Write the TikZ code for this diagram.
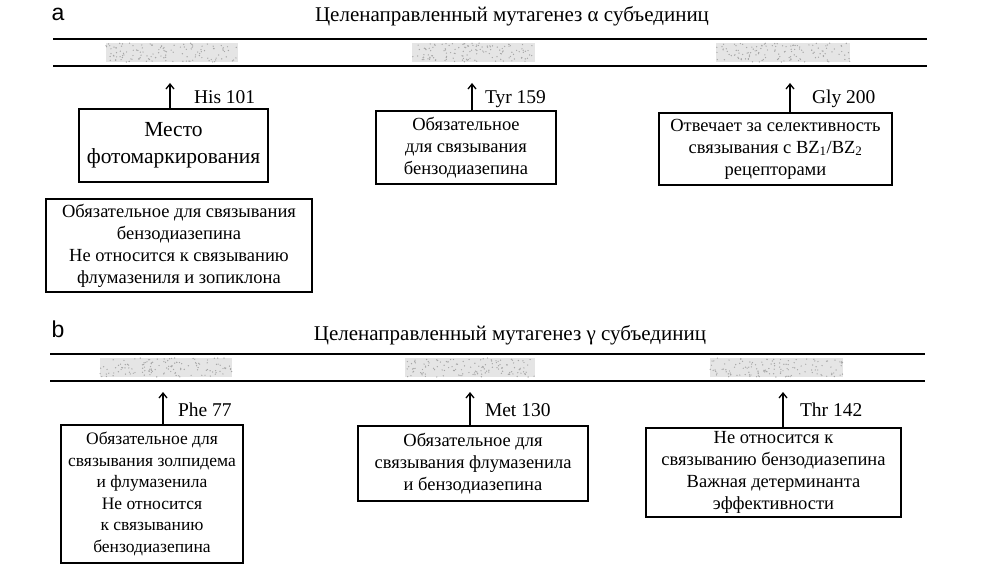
\documentclass[tikz,border=0pt]{standalone}
\usepackage{fontspec}
\setmainfont{Liberation Serif}
\setsansfont{Liberation Sans}
\usetikzlibrary{arrows.meta}
\begin{document}
\begin{tikzpicture}[x=1pt,y=-1pt,
  every node/.style={inner sep=0pt,outer sep=0pt},
  infobox/.style={draw,line width=1.3pt,align=center,font=\fontsize{18.5}{22}\selectfont},
  bigbox/.style={draw,line width=1.3pt,align=center,font=\fontsize{21.5}{27}\selectfont},
  res/.style={anchor=base west,font=\fontsize{19.5}{22}\selectfont},
  ttl/.style={font=\fontsize{21}{24}\selectfont},
  letter/.style={font=\sffamily\fontsize{23}{26}\selectfont},
  band/.style={line width=1.3pt},
  patch/.style={fill=black!10,draw=none},
  speck/.style={fill=black!35,draw=none},
  up/.style={-{Straight Barb[length=5pt,width=8pt]},line width=1.3pt}]
\useasboundingbox (0,0) rectangle (1004,585);
\pgfmathsetseed{7}
% ---- panel a ----
\node[letter] (la) at (58,14) {a};
\node[ttl] (ta) at (512,16) {Целенаправленный мутагенез α субъединиц};
\foreach \xa/\xb/\ya in {106/238/43, 412/535/43, 716/850/43, 100/232/358, 405/535/358, 710/843/358}{
  \fill[patch] (\xa,\ya) rectangle (\xb,\ya+19);
  \foreach \k in {1,...,130}{
    \pgfmathsetmacro{\px}{\xa+rnd*(\xb-\xa)}
    \pgfmathsetmacro{\py}{\ya+rnd*19}
    \fill[speck] (\px,\py) circle (0.7);
  }
}
\coordinate (a1l) at (53,39); \coordinate (a1r) at (927,39);
\coordinate (a2l) at (53,66); \coordinate (a2r) at (927,66);
\draw[band] (a1l) -- (a1r);
\draw[band] (a2l) -- (a2r);

\node[bigbox,minimum width=189pt,minimum height=73pt] (b1) at (173.5,145.5) {Место\\фотомаркирования};
\node[infobox,minimum width=266pt,minimum height=93pt] (b2) at (179,245.5) {Обязательное для связывания\\бензодиазепина\\Не относится к связыванию\\флумазениля и зопиклона};
\node[infobox,minimum width=180pt,minimum height=73pt] (b3) at (466,147.5) {Обязательное\\для связывания\\бензодиазепина};
\node[infobox,minimum width=233pt,minimum height=72pt] (b4) at (775.5,149) {Отвечает за селективность\\связывания с BZ\textsubscript{1}/BZ\textsubscript{2}\\рецепторами};

\coordinate (t1) at (170,83);
\coordinate (t3) at (472,83);
\coordinate (t4) at (790,83);
\draw[up] (b1.north -| t1) -- (t1);
\draw[up] (b3.north -| t3) -- (t3);
\draw[up] (b4.north -| t4) -- (t4);
\node[res] (r1) at (194,104) {His 101};
\node[res] (r3) at (485,104) {Tyr 159};
\node[res] (r4) at (812,104) {Gly 200};

% ---- panel b ----
\node[letter] (lb) at (58,329) {b};
\node[ttl] (tb) at (510,335) {Целенаправленный мутагенез γ субъединиц};
\coordinate (b1l) at (50,354); \coordinate (b1r) at (925,354);
\coordinate (b2l) at (50,381); \coordinate (b2r) at (925,381);
\draw[band] (b1l) -- (b1r);
\draw[band] (b2l) -- (b2r);

\node[infobox,font=\fontsize{17.5}{21.5}\selectfont,minimum width=182pt,minimum height=138pt] (c1) at (152,494) {Обязательное для\\связывания золпидема\\и флумазенила\\Не относится\\к связыванию\\бензодиазепина};
\node[infobox,minimum width=230pt,minimum height=75pt] (c2) at (473,463.5) {Обязательное для\\связывания флумазенила\\и бензодиазепина};
\node[infobox,minimum width=255pt,minimum height=89pt] (c3) at (773.5,472.5) {Не относится к\\связыванию бензодиазепина\\Важная детерминанта\\эффективности};

\coordinate (u1) at (163,392);
\coordinate (u2) at (470,392);
\coordinate (u3) at (783,392);
\draw[up] (c1.north -| u1) -- (u1);
\draw[up] (c2.north -| u2) -- (u2);
\draw[up] (c3.north -| u3) -- (u3);
\node[res] (s1) at (178,416) {Phe 77};
\node[res] (s2) at (485,416) {Met 130};
\node[res] (s3) at (800,416) {Thr 142};
\end{tikzpicture}
\end{document}
